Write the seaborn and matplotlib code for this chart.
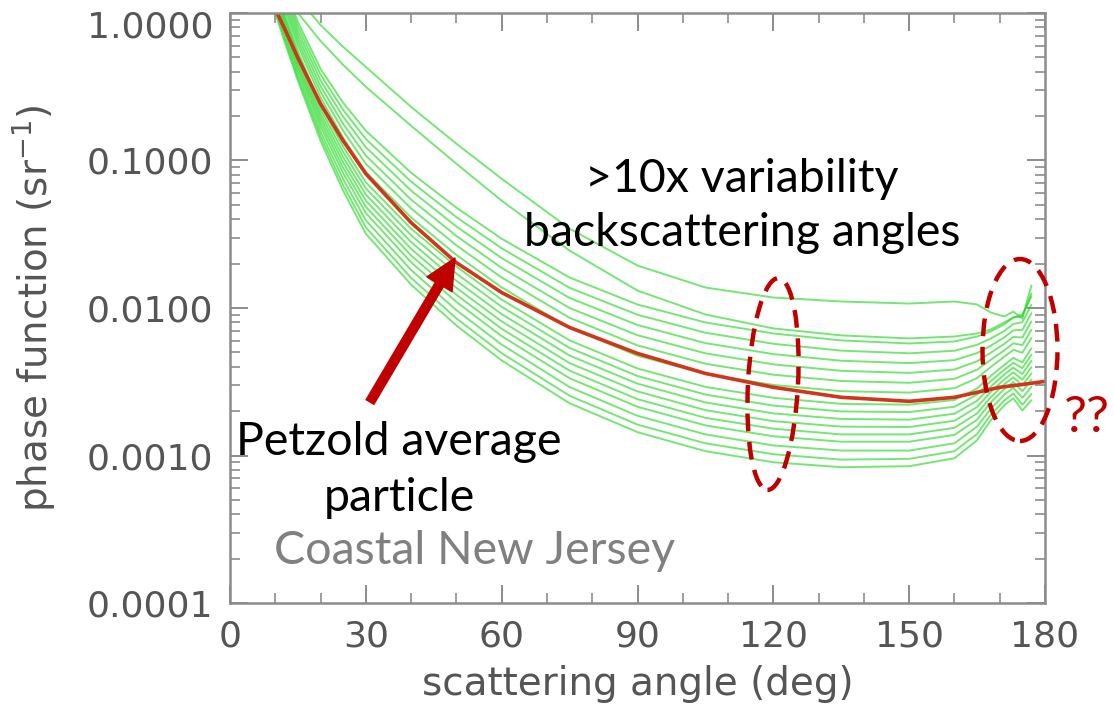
import numpy as np
import pandas as pd
import seaborn as sns
import matplotlib.pyplot as plt
from matplotlib.patches import Ellipse
from matplotlib.transforms import IdentityTransform, ScaledTranslation
from matplotlib.ticker import MultipleLocator, LogLocator, NullFormatter, FuncFormatter

# scattering angles (deg) where the green field curves were read
angles = [10, 12, 15, 20, 25, 30, 40, 50, 60, 75, 90, 105, 120, 135, 150,
          160, 165, 168, 171, 173, 175, 177]

# the two flattest curves on top
g_top = [2.11, 1.70, 1.26, 0.829, 0.589, 0.431, 0.231, 0.130, 0.0752, 0.0345, 0.0194, 0.01377,
         0.01178, 0.01107, 0.01072, 0.01107, 0.01056, 0.00933, 0.00876, 0.00946, 0.00849, 0.0142]
g_second = [1.70, 1.37, 1.00, 0.646, 0.445, 0.316, 0.172, 0.0951, 0.0534, 0.0245, 0.01313, 0.00904,
            0.00727, 0.00652, 0.00622, 0.00641, 0.00672, 0.00715, 0.00798, 0.00863, 0.00876, 0.01254]

# main band, top to bottom
g00 = [2.15, 1.52, 0.869, 0.418, 0.246, 0.159, 0.0826, 0.0479, 0.0295, 0.0161, 0.01056, 0.00798,
       0.00672, 0.00603, 0.00575, 0.00593, 0.00641, 0.00693, 0.00773, 0.00862, 0.00904, 0.01196]
g01 = [2.02, 1.42, 0.808, 0.382, 0.220, 0.140, 0.0719, 0.0413, 0.0254, 0.0137, 0.00900, 0.00680,
       0.00572, 0.00514, 0.00493, 0.00513, 0.00563, 0.00620, 0.00699, 0.00779, 0.00802, 0.01051]
g02 = [1.90, 1.33, 0.750, 0.349, 0.198, 0.123, 0.0625, 0.0357, 0.0218, 0.0117, 0.00767, 0.00578,
       0.00487, 0.00439, 0.00423, 0.00443, 0.00495, 0.00555, 0.00632, 0.00705, 0.00711, 0.00923]
g03 = [1.79, 1.24, 0.697, 0.319, 0.177, 0.108, 0.0543, 0.0308, 0.0187, 0.0100, 0.00654, 0.00493,
       0.00415, 0.00375, 0.00363, 0.00383, 0.00435, 0.00497, 0.00571, 0.00637, 0.00631, 0.00811]
g04 = [1.68, 1.16, 0.648, 0.292, 0.159, 0.0951, 0.0473, 0.0266, 0.0161, 0.00858, 0.00558, 0.00419,
       0.00353, 0.00320, 0.00311, 0.00331, 0.00382, 0.00445, 0.00516, 0.00576, 0.00560, 0.00712]
g05 = [1.58, 1.08, 0.602, 0.267, 0.142, 0.0837, 0.0411, 0.0229, 0.0138, 0.00733, 0.00475, 0.00357,
       0.00301, 0.00273, 0.00267, 0.00286, 0.00335, 0.00398, 0.00467, 0.00521, 0.00497, 0.00626]
g06 = [1.47, 0.992, 0.549, 0.238, 0.124, 0.0712, 0.0345, 0.0191, 0.0114, 0.00603, 0.00389, 0.00292,
       0.00246, 0.00224, 0.00221, 0.00238, 0.00285, 0.00346, 0.00411, 0.00459, 0.00428, 0.00532]
g07 = [1.40, 0.943, 0.519, 0.223, 0.114, 0.0647, 0.0311, 0.0171, 0.0102, 0.00536, 0.00346, 0.00259,
       0.00218, 0.00199, 0.00197, 0.00214, 0.00259, 0.00319, 0.00381, 0.00425, 0.00391, 0.00483]
g08 = [1.34, 0.895, 0.491, 0.208, 0.105, 0.0588, 0.0280, 0.0153, 0.00909, 0.00476, 0.00307, 0.00229,
       0.00193, 0.00177, 0.00175, 0.00192, 0.00235, 0.00293, 0.00354, 0.00394, 0.00357, 0.00438]
g09 = [1.28, 0.850, 0.465, 0.195, 0.0968, 0.0534, 0.0252, 0.0137, 0.00811, 0.00423, 0.00272, 0.00203,
       0.00171, 0.00157, 0.00156, 0.00172, 0.00213, 0.00270, 0.00328, 0.00366, 0.00327, 0.00397]
g10 = [1.22, 0.808, 0.440, 0.182, 0.0892, 0.0485, 0.0227, 0.0123, 0.00723, 0.00376, 0.00241, 0.00180,
       0.00152, 0.00139, 0.00139, 0.00154, 0.00193, 0.00248, 0.00304, 0.00339, 0.00299, 0.00360]
g11 = [1.165, 0.767, 0.417, 0.170, 0.0821, 0.0440, 0.0204, 0.0110, 0.00645, 0.00334, 0.00214, 0.00160,
       0.00135, 0.00124, 0.00124, 0.00138, 0.00175, 0.00229, 0.00282, 0.00314, 0.00273, 0.00327]
g12 = [1.10, 0.723, 0.391, 0.157, 0.0746, 0.0393, 0.0181, 0.00967, 0.00565, 0.00291, 0.00186, 0.00139,
       0.00117, 0.00108, 0.00108, 0.00121, 0.00157, 0.00207, 0.00258, 0.00288, 0.00246, 0.00292]
g13 = [1.05, 0.681, 0.366, 0.146, 0.0678, 0.0352, 0.0160, 0.00850, 0.00494, 0.00254, 0.00162, 0.00121,
       0.00102, 0.000938, 0.000949, 0.00107, 0.00140, 0.00188, 0.00236, 0.00263, 0.00221, 0.00261]
g14 = [1.00, 0.646, 0.347, 0.136, 0.0624, 0.0319, 0.0144, 0.00761, 0.00441, 0.00226, 0.00144, 0.00107,
       0.000900, 0.000833, 0.000846, 0.000958, 0.00127, 0.00173, 0.00219, 0.00244, 0.00202, 0.00237]

# Petzold average particle phase function
petzold_angle = [10, 12, 15, 20, 25, 30, 40, 50, 60, 75, 90, 105, 120, 135, 150, 160, 165, 170, 175, 180]
petzold = [1.06, 0.79, 0.496, 0.242, 0.136, 0.0813, 0.0379, 0.0203, 0.01273, 0.00738, 0.00492, 0.0036,
           0.0029, 0.00248, 0.00233, 0.00248, 0.00268, 0.0029, 0.00303, 0.00318]

ytick_vals = [0.0001, 0.001, 0.01, 0.1, 1.0]

curves = [g_top, g_second, g00, g01, g02, g03, g04, g05, g06, g07, g08, g09, g10, g11, g12, g13, g14]
green = pd.DataFrame({
    'angle': np.tile(angles, len(curves)),
    'value': np.concatenate(curves),
    'curve': np.repeat(np.arange(len(curves)), len(angles)),
})

sns.set_theme(style='ticks')
plt.rcParams['font.family'] = ['DejaVu Sans']

W, H = 1114, 708
fig = plt.figure(figsize=(W / 100, H / 100), dpi=100)
ax = fig.add_axes([230 / W, 1 - 603 / H, 815 / W, 590 / H])

sns.lineplot(data=green, x='angle', y='value', units='curve', estimator=None,
             color='#1fd81f', alpha=0.62, lw=1.4, legend=False, ax=ax)
sns.lineplot(x=petzold_angle, y=petzold, color='#d0361a', lw=2.6, ax=ax)

ax.set_yscale('log')
ax.set_xlim(0, 180)
ax.set_ylim(1e-4, 1)

ax.xaxis.set_major_locator(MultipleLocator(30))
ax.xaxis.set_minor_locator(MultipleLocator(10))
ax.set_yticks(ytick_vals)
ax.yaxis.set_minor_locator(LogLocator(base=10, subs=np.arange(2, 10), numticks=20))
ax.yaxis.set_minor_formatter(NullFormatter())
ax.yaxis.set_major_formatter(FuncFormatter(lambda v, p: f'{v:.4f}'))

gray = '#8c8c8c'
ink = '#555555'
ax.tick_params(which='both', direction='in', top=True, right=True, color=gray,
               labelcolor=ink, labelsize=26)
ax.tick_params(which='major', length=13, width=1.4, pad=12)
ax.tick_params(which='minor', length=7, width=1.2)
for s in ax.spines.values():
    s.set_color(gray)
    s.set_linewidth(1.8)

# nudge the top label down so it stays inside the picture
top_lab = ax.get_yticklabels()[-1]
top_lab.set_transform(top_lab.get_transform() + ScaledTranslation(0, -8 / 72, fig.dpi_scale_trans))

ax.set_xlabel('scattering angle (deg)', fontsize=28, color=ink)
ax.set_ylabel('phase function (sr$^{-1}$)', fontsize=28, color=ink)
ax.xaxis.set_label_coords(0.5, -0.105)
ax.yaxis.set_label_coords(-0.212, 0.5)

txt = ['Lato', 'DejaVu Sans']
fig.text(742 / W, 1 - 206 / H, '>10x variability\nbackscattering angles', ha='center', va='center',
         fontsize=33.5, family=txt, color='black', linespacing=1.37)
fig.text(399 / W, 1 - 470 / H, 'Petzold average\nparticle', ha='center', va='center',
         fontsize=33.5, family=txt, color='black', linespacing=1.42)
fig.text(475 / W, 1 - 551 / H, 'Coastal New Jersey', ha='center', va='center',
         fontsize=33.5, family=txt, color='#808080')
fig.text(1087 / W, 1 - 418 / H, '??', ha='center', va='center',
         fontsize=37, family=txt, color='#c00000')

red = '#c00000'
ax.annotate('', xy=(455, H - 258), xytext=(370, H - 402),
            xycoords='figure pixels', textcoords='figure pixels',
            arrowprops=dict(facecolor=red, edgecolor=red, width=6.5, headwidth=21,
                            headlength=22, shrink=0))

for cx, cy, w, h, a in [(773, 384, 50, 212, -3), (1020, 350, 75, 182, 0)]:
    fig.add_artist(Ellipse((cx, H - cy), w, h, angle=a, transform=IdentityTransform(),
                           fill=False, edgecolor=red, lw=3.2, linestyle=(0, (4, 2.4))))

fig.savefig('out.png', dpi=100)
